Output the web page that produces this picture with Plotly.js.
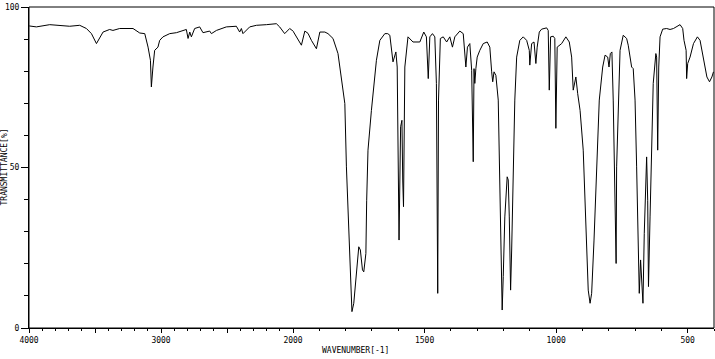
<!DOCTYPE html>
<html>
<head>
<meta charset="utf-8">
<script src="https://cdn.plot.ly/plotly-3.0.1.min.js"></script>
<style>html,body{margin:0;padding:0;background:#fff;}#chart{width:715px;height:359px;}</style>
</head>
<body>
<div id="chart"></div>
<script>
// 4000-2000 cm-1 region
const wnHigh = [3998,3944,3843,3692,3616,3565,3527,3489,3439,3389,3364,3313,3212,3161,3123,3098,3080,3073,3061,3048,3023,3010,2985,2934,2883,2833,2808,2795,2782,2770,2745,2707,2682,2631,2618,2580,2505,2429,2404,2391,2379,2328,2277,2201,2126,2101,2063,2025,2000];
const tHigh  = [94.1,93.8,94.5,94.0,94.3,93.3,91.7,88.6,92.2,93.0,92.7,93.3,93.3,91.9,91.7,87.5,83.4,75.1,81.3,86.5,87.5,89.6,90.7,91.7,92.0,92.7,93.0,90.2,92.2,90.7,93.3,93.8,92.0,92.5,91.7,92.7,93.8,94.0,92.2,93.3,91.7,93.8,94.3,94.5,94.8,93.8,91.7,93.3,92.5];

// 2000-400 cm-1 region
const wnLow = [2000,1987,1968,1955,1943,1930,1911,1898,1879,1867,1848,1829,1816,1803,1797,1788,1782,1776,1769,1761,
  1756,1750,1744,1736,1731,1723,1720,1715,1702,1693,1683,1670,1651,1640,1632,1620,1613,1609,1604,1597,
  1591,1586,1583,1580,1575,1563,1544,1518,1503,1493,1486,1480,1470,1461,1455,1450,1447,1440,1429,1416,
  1404,1394,1385,1366,1353,1347,1343,1337,1328,1321,1318,1315,1312,1309,1305,1300,1290,1277,1262,1252,
  1245,1241,1236,1229,1220,1214,1210,1205,1201,1195,1186,1182,1178,1173,1169,1163,1157,1150,1138,1125,
  1112,1102,1100,1093,1084,1077,1072,1064,1055,1036,1030,1026,1021,1011,1005,1001,996,979,963,950,
  941,935,931,925,918,909,897,887,878,871,865,856,846,836,823,814,804,799,794,788,
  783,776,772,770,764,757,745,732,726,713,707,700,694,688,684,679,674,670,665,660,
  656,652,649,643,637,631,621,618,614,610,605,595,580,567,554,542,529,519,514,506,
  504,500,491,478,463,453,440,427,417,408,402];
const tLow = [92.5,90.7,88.1,92.5,91.8,89.6,87.0,92.2,92.2,91.7,90.2,85.5,77.2,69.9,50.2,29.6,16.0,5.1,7.7,16.0,
  21.2,25.3,24.3,18.1,17.5,23.2,39.8,55.4,67.8,75.6,83.4,89.6,91.7,91.7,91.2,82.9,85.5,86.0,81.3,27.4,
  62.7,64.7,46.1,37.8,81.3,90.7,89.1,89.1,92.2,90.7,77.7,90.7,91.7,90.7,76.2,10.8,71.0,90.2,90.7,89.1,
  90.7,87.5,90.7,92.5,91.7,83.4,81.3,87.5,88.6,80.3,59.5,51.8,80.8,76.2,80.8,84.4,86.5,88.6,89.1,87.5,
  79.8,76.7,79.8,78.7,71.0,42.9,22.2,5.6,16.0,34.6,47.1,46.1,34.6,11.8,24.3,52.3,71.0,84.4,89.6,90.7,
  89.6,86.5,81.9,88.6,89.1,82.4,87.5,92.2,93.1,93.5,92.7,74.1,90.7,90.9,90.2,62.2,87.5,88.6,90.7,89.1,
  84.4,74.1,76.2,78.2,73.0,67.8,55.4,29.5,11.8,7.7,10.8,27.4,50.2,71.0,81.3,85.0,84.4,81.3,85.5,86.0,
  71.0,37.8,20.1,50.2,71.0,86.5,91.2,90.2,88.1,81.3,80.8,71.0,50.2,29.5,10.8,21.2,10.8,7.7,29.5,41.9,
  53.3,39.8,12.9,34.6,60.6,76.2,85.5,84.4,55.4,81.3,90.7,93.1,93.3,93.0,93.3,93.8,94.5,93.3,89.6,86.5,
  77.7,82.4,84.4,88.6,90.7,89.6,84.4,78.2,76.7,78.2,79.8];

const xTickHighVals = [4000,3500,3000,2500,2000];
const xTickHighText = ['4000','','3000','','2000'];
const xTickLowVals = [1500,1000,500];
const xTickLowText = ['1500','1000','500'];
const yTickVals = [0,50,100];
const yTickText = ['0','50','100'];
const xTitle = 'WAVENUMBER[-1]';
const yTitle = 'TRANSMITTANCE[%]';

const font = {family: 'DejaVu Sans Mono, monospace', size: 8, color: '#000'};
const lineStyle = {color: '#000', width: 1};

const traces = [
  {x: wnHigh, y: tHigh, xaxis: 'x', yaxis: 'y', mode: 'lines', line: lineStyle, hoverinfo: 'skip'},
  {x: wnLow, y: tLow, xaxis: 'x2', yaxis: 'y', mode: 'lines', line: lineStyle, hoverinfo: 'skip'}
];

const split = 264 / 685;
const xCommon = {
  showgrid: false, zeroline: false, showline: true, linecolor: '#000', linewidth: 1,
  ticks: 'outside', ticklen: 4, tickwidth: 1, tickcolor: '#000', tickfont: font,
  tickmode: 'array', anchor: 'y',
  minor: {tick0: 0, dtick: 100, ticks: 'outside', ticklen: 2, tickwidth: 1, tickcolor: '#000', showgrid: false}
};

const layout = {
  width: 715, height: 359,
  margin: {l: 29, r: 1, t: 7, b: 31},
  paper_bgcolor: '#fff', plot_bgcolor: '#fff',
  showlegend: false, hovermode: false,
  xaxis: Object.assign({}, xCommon, {domain: [0, split], range: [4000, 2000], tickvals: xTickHighVals, ticktext: xTickHighText}),
  xaxis2: Object.assign({}, xCommon, {domain: [split, 1], range: [2000, 400], tickvals: xTickLowVals, ticktext: xTickLowText}),
  yaxis: {
    range: [0, 100], showgrid: false, zeroline: false, showline: true, linecolor: '#000', linewidth: 1,
    ticks: 'outside', ticklen: 7, tickwidth: 1, tickcolor: '#000', tickfont: font,
    tickmode: 'array', tickvals: yTickVals, ticktext: yTickText, anchor: 'x',
    minor: {tick0: 0, dtick: 10, ticks: 'outside', ticklen: 4, tickwidth: 1, tickcolor: '#000', showgrid: false}
  },
  shapes: [{type: 'rect', xref: 'paper', yref: 'paper', x0: 0, x1: 1, y0: 0, y1: 1, line: {color: '#000', width: 1}}],
  annotations: [
    {text: xTitle, xref: 'paper', yref: 'paper', x: (355 - 29) / 685, y: 0, yanchor: 'top', xanchor: 'center', yshift: -16, showarrow: false, font: font},
    {text: yTitle, xref: 'paper', yref: 'paper', x: 0, y: 0.5, xanchor: 'center', yanchor: 'middle', xshift: -25, textangle: -90, showarrow: false, font: font}
  ]
};

Plotly.newPlot('chart', traces, layout, {staticPlot: true, displayModeBar: false});
</script>
</body>
</html>
